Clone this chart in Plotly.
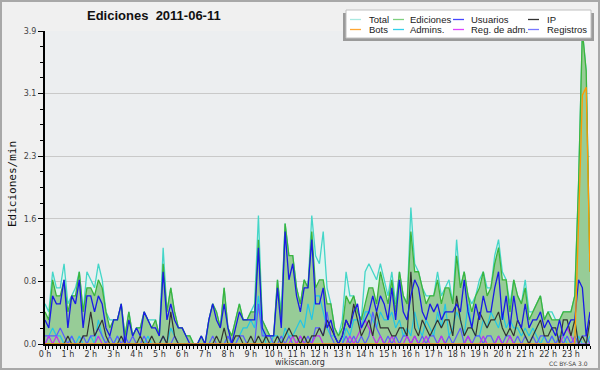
import plotly.graph_objects as go

# ---------------- data (per 10 minutes, 144 points, edits/min) ----------------
total = [
    0.5,0.4,0.9,0.7,0.7,1.0,  0.5,0.6,0.7,0.9,0.4,0.9,  0.8,0.7,1.0,0.8,0.4,0.3,
    0.3,0.3,0.5,0.1,0.4,0.1,  0.2,0.2,0.4,0.3,0.3,0.3,  0.1,1.2,0.4,0.7,0.4,0.2,
    0.2,0.1,0.1,0.0,0.0,0.1,  0.0,0.3,0.5,0.4,0.2,0.7,  0.2,0.1,0.3,0.5,0.3,0.3,
    0.4,0.5,1.6,0.3,0.2,0.1,  0.1,0.8,0.4,1.5,1.1,1.1,  0.7,0.5,0.8,0.7,1.6,1.1,
    1.0,1.4,0.7,0.5,0.2,0.1,  0.3,0.9,0.6,0.6,0.4,0.3,  0.9,1.0,0.9,0.8,1.0,0.8,
    0.6,0.9,0.5,0.9,0.6,0.5,  1.7,1.0,0.9,0.7,0.6,0.6,  0.6,0.9,0.6,0.7,0.8,0.5,
    1.3,0.7,0.9,0.6,0.5,0.6,  0.8,0.9,0.7,0.7,1.1,1.3,  0.9,0.8,0.5,0.8,0.6,0.5,
    0.8,0.4,0.4,0.5,0.6,0.3,  0.4,0.4,0.3,0.3,0.4,0.4,  0.4,0.6,2.0,3.9,3.4,0.9,
]
ediciones = [
    0.4,0.3,0.8,0.6,0.6,0.8,  0.4,0.6,0.6,0.9,0.4,0.7,  0.7,0.6,0.8,0.7,0.4,0.2,
    0.3,0.3,0.5,0.1,0.4,0.1,  0.2,0.2,0.4,0.3,0.2,0.3,  0.1,1.0,0.4,0.7,0.4,0.2,
    0.2,0.1,0.1,0.0,0.0,0.1,  0.0,0.3,0.5,0.4,0.2,0.7,  0.2,0.1,0.3,0.5,0.3,0.3,
    0.4,0.4,1.3,0.3,0.2,0.1,  0.1,0.8,0.3,1.5,1.1,1.1,  0.7,0.5,0.8,0.7,1.4,0.7,
    0.8,0.8,0.5,0.5,0.2,0.1,  0.2,0.6,0.5,0.6,0.4,0.3,  0.5,0.7,0.7,0.5,0.9,0.7,
    0.5,0.8,0.4,0.9,0.6,0.5,  1.4,0.9,0.9,0.7,0.5,0.6,  0.6,0.8,0.5,0.7,0.7,0.5,
    1.1,0.7,0.9,0.6,0.4,0.6,  0.7,0.9,0.6,0.7,1.0,1.2,  0.8,0.8,0.4,0.8,0.6,0.5,
    0.7,0.3,0.4,0.5,0.6,0.3,  0.4,0.3,0.3,0.3,0.4,0.4,  0.4,0.6,2.0,3.9,3.4,0.9,
]
usuarios = [
    0.3,0.2,0.6,0.5,0.5,0.8,  0.2,0.6,0.5,0.8,0.2,0.6,  0.6,0.4,0.6,0.5,0.2,0.1,
    0.3,0.3,0.5,0.0,0.3,0.1,  0.2,0.1,0.4,0.3,0.2,0.2,  0.1,0.9,0.3,0.5,0.3,0.2,
    0.2,0.1,0.0,0.0,0.0,0.1,  0.0,0.3,0.5,0.3,0.2,0.5,  0.2,0.0,0.2,0.4,0.3,0.3,
    0.3,0.3,1.2,0.2,0.1,0.1,  0.1,0.7,0.2,1.4,0.8,1.0,  0.6,0.4,0.7,0.7,1.3,0.5,
    0.5,0.7,0.2,0.3,0.1,0.0,  0.1,0.3,0.2,0.4,0.5,0.2,  0.3,0.4,0.6,0.4,0.6,0.5,
    0.3,0.7,0.3,0.8,0.4,0.3,  0.6,0.8,0.7,0.4,0.3,0.5,  0.4,0.5,0.3,0.4,0.4,0.4,
    0.5,0.4,0.8,0.4,0.2,0.5,  0.3,0.6,0.4,0.4,0.7,0.9,  0.3,0.6,0.2,0.6,0.3,0.2,
    0.5,0.2,0.3,0.3,0.4,0.2,  0.3,0.2,0.1,0.3,0.1,0.2,  0.3,0.3,0.8,0.7,0.1,0.4,
]
ip = [
    0.0,0.0,0.0,0.0,0.0,0.0,  0.1,0.0,0.0,0.0,0.1,0.1,  0.4,0.1,0.2,0.3,0.1,0.0,
    0.0,0.0,0.1,0.0,0.0,0.0,  0.0,0.1,0.0,0.0,0.1,0.0,  0.0,0.1,0.0,0.4,0.1,0.0,
    0.0,0.0,0.0,0.0,0.0,0.0,  0.0,0.0,0.0,0.1,0.0,0.2,  0.0,0.0,0.1,0.1,0.0,0.0,
    0.1,0.0,0.1,0.0,0.1,0.0,  0.0,0.1,0.0,0.1,0.2,0.1,  0.1,0.0,0.1,0.0,0.1,0.1,
    0.2,0.1,0.3,0.2,0.1,0.0,  0.1,0.3,0.2,0.5,0.3,0.1,  0.2,0.3,0.1,0.4,0.2,0.2,
    0.2,0.1,0.1,0.2,0.2,0.1,  0.9,0.2,0.1,0.3,0.2,0.1,  0.2,0.3,0.2,0.3,0.3,0.1,
    0.6,0.3,0.1,0.2,0.2,0.1,  0.4,0.3,0.2,0.3,0.3,0.4,  0.2,0.1,0.2,0.1,0.3,0.2,
    0.1,0.0,0.1,0.2,0.3,0.1,  0.1,0.2,0.2,0.0,0.3,0.3,  0.1,0.3,0.0,0.1,0.0,0.3,
]
bots = [0.0] * 140 + [1.5, 3.1, 3.2, 0.9]
admins = [
    0.0,0.1,0.2,0.1,0.1,0.0,  0.0,0.1,0.0,0.1,0.0,0.0,  0.1,0.0,0.3,0.1,0.0,0.0,
    0.0,0.1,0.0,0.0,0.0,0.0,  0.0,0.0,0.0,0.1,0.0,0.0,  0.0,0.1,0.0,0.2,0.1,0.0,
    0.0,0.0,0.0,0.0,0.0,0.0,  0.0,0.0,0.0,0.0,0.0,0.0,  0.1,0.0,0.0,0.1,0.2,0.2,
    0.3,0.2,0.6,0.2,0.0,0.0,  0.1,0.1,0.0,0.2,0.1,0.1,  0.2,0.3,0.2,0.5,0.3,0.6,
    0.6,0.4,0.2,0.1,0.1,0.0,  0.0,0.2,0.1,0.3,0.3,0.2,  0.4,0.4,0.3,0.2,0.4,0.3,
    0.3,0.4,0.2,0.3,0.1,0.2,  0.1,0.4,0.2,0.1,0.3,0.2,  0.1,0.4,0.2,0.5,0.1,0.2,
    0.4,0.3,0.1,0.5,0.2,0.1,  0.1,0.3,0.2,0.4,0.3,0.2,  0.4,0.2,0.3,0.2,0.2,0.1,
    0.2,0.1,0.2,0.1,0.0,0.1,  0.0,0.1,0.0,0.1,0.1,0.0,  0.0,0.0,0.1,0.0,0.0,0.1,
]
reg_adm = [
    0.0,0.1,0.0,0.1,0.0,0.0,  0.0,0.0,0.0,0.0,0.0,0.0,  0.0,0.0,0.1,0.0,0.0,0.0,
    0.0,0.0,0.0,0.0,0.0,0.0,  0.0,0.0,0.0,0.0,0.0,0.0,  0.0,0.0,0.0,0.0,0.0,0.0,
    0.0,0.0,0.0,0.0,0.0,0.0,  0.0,0.0,0.0,0.0,0.0,0.0,  0.0,0.0,0.0,0.0,0.0,0.0,
    0.0,0.0,0.0,0.0,0.0,0.0,  0.0,0.0,0.0,0.0,0.0,0.1,  0.0,0.1,0.0,0.0,0.0,0.1,
    0.1,0.0,0.0,0.0,0.0,0.0,  0.0,0.0,0.1,0.0,0.1,0.2,  0.3,0.2,0.1,0.0,0.1,0.0,
    0.0,0.1,0.0,0.0,0.0,0.1,  0.0,0.1,0.0,0.0,0.1,0.0,  0.0,0.0,0.1,0.0,0.0,0.0,
    0.0,0.0,0.0,0.1,0.0,0.0,  0.0,0.1,0.0,0.0,0.0,0.1,  0.0,0.0,0.1,0.0,0.0,0.0,
    0.0,0.0,0.0,0.0,0.0,0.0,  0.0,0.0,0.0,0.0,0.1,0.2,  0.1,0.0,0.0,0.0,0.0,0.0,
]
registros = [
    0.1,0.1,0.1,0.1,0.2,0.1,  0.0,0.1,0.0,0.0,0.1,0.0,  0.1,0.1,0.2,0.1,0.0,0.1,
    0.0,0.1,0.0,0.1,0.0,0.1,  0.0,0.0,0.1,0.0,0.0,0.0,  0.0,0.1,0.0,0.0,0.1,0.0,
    0.0,0.0,0.0,0.0,0.0,0.0,  0.0,0.0,0.1,0.0,0.0,0.0,  0.1,0.0,0.0,0.1,0.1,0.0,
    0.0,0.0,0.5,0.1,0.1,0.1,  0.0,0.0,0.1,0.0,0.1,0.0,  0.0,0.1,0.0,0.1,0.0,0.2,
    0.2,0.1,0.4,0.1,0.0,0.0,  0.0,0.1,0.0,0.1,0.0,0.1,  0.0,0.1,0.4,0.2,0.1,0.0,
    0.1,0.0,0.1,0.0,0.1,0.1,  0.0,0.1,0.0,0.1,0.0,0.1,  0.1,0.0,0.1,0.0,0.1,0.0,
    0.1,0.2,0.0,0.1,0.0,0.1,  0.1,0.0,0.1,0.1,0.0,0.1,  0.0,0.1,0.1,0.0,0.1,0.0,
    0.1,0.0,0.1,0.0,0.1,0.1,  0.0,0.1,0.0,0.1,0.0,0.1,  0.0,0.1,0.0,0.1,0.1,0.0,
]

x_hours = [i / 6 for i in range(len(ediciones))]

legend_names = ["Total", "Ediciones", "Usuarios", "IP",
                "Bots", "Admins.", "Reg. de adm.", "Registros"]
legend_colors = ["#a9e9e1", "#7fd07f", "#4646ff", "#333333",
                 "#ffa733", "#33d0ea", "#dd44ff", "#7777ff"]

title_text = "Ediciones\u00a0 2011-06-11"
y_title = "Ediciones/min"

# ---------------- figure ----------------
W, H = 600, 370
L, R, T, B = 45, 10, 31, 26
PW, PH = W - L - R, H - T - B


def px(x):
    return (x - L) / PW


def py(y):
    return (H - B - y) / PH


fig = go.Figure()

fig.add_trace(go.Scatter(x=x_hours, y=total, mode="lines", fill="tozeroy",
                         fillcolor="#dff3ef", line=dict(color="#44d6c8", width=1.3),
                         name="Total"))
fig.add_trace(go.Scatter(x=x_hours, y=ediciones, mode="lines", fill="tozeroy",
                         fillcolor="#97cc97", line=dict(color="#3cb43c", width=1.3),
                         name="Ediciones"))
fig.add_trace(go.Scatter(x=x_hours, y=admins, mode="lines",
                         line=dict(color="#22c6e6", width=1.2), name="Admins."))
fig.add_trace(go.Scatter(x=x_hours, y=registros, mode="lines",
                         line=dict(color="#5a5aff", width=1.2), name="Registros"))
fig.add_trace(go.Scatter(x=x_hours, y=reg_adm, mode="lines",
                         line=dict(color="#c030f0", width=1.2), name="Reg. de adm."))
fig.add_trace(go.Scatter(x=x_hours, y=ip, mode="lines",
                         line=dict(color="#333333", width=1.2), name="IP"))
fig.add_trace(go.Scatter(x=x_hours, y=usuarios, mode="lines",
                         line=dict(color="#1a1ae6", width=1.3), name="Usuarios"))
fig.add_trace(go.Scatter(x=x_hours, y=bots, mode="lines",
                         line=dict(color="#ff9a00", width=1.3), name="Bots"))

shapes = []
annotations = []

# outer frame
shapes.append(dict(type="rect", xref="paper", yref="paper",
                   x0=px(1), x1=px(599), y0=py(369), y1=py(1),
                   line=dict(color="#a8a8a8", width=2), fillcolor="rgba(0,0,0,0)",
                   layer="below"))

# legend box (shadow + box)
shapes.append(dict(type="rect", xref="paper", yref="paper",
                   x0=px(343), x1=px(594), y0=py(41), y1=py(13),
                   line=dict(width=0), fillcolor="#9a9a9a", layer="above"))
shapes.append(dict(type="rect", xref="paper", yref="paper",
                   x0=px(346), x1=px(591), y0=py(38), y1=py(10),
                   line=dict(color="#c0c0c0", width=1), fillcolor="#ffffff", layer="above"))

col_line_x = [350, 393, 453, 528]
col_text_x = [367, 408, 469, 545]
row_y = [19.5, 29.5]
for k, (name, col) in enumerate(zip(legend_names, legend_colors)):
    r, c = divmod(k, 4)
    yy = py(row_y[r])
    shapes.append(dict(type="line", xref="paper", yref="paper",
                       x0=px(col_line_x[c]), x1=px(col_line_x[c] + 11), y0=yy, y1=yy,
                       line=dict(color=col, width=1.3), layer="above"))
    annotations.append(dict(text=name, xref="paper", yref="paper",
                            x=px(col_text_x[c]), y=yy, xanchor="left", yanchor="middle",
                            showarrow=False,
                            font=dict(family="Liberation Sans", size=9.5, color="#1a1a1a")))

# title
annotations.append(dict(text="<b>" + title_text + "</b>", xref="paper", yref="paper",
                        x=px(153.5), y=py(16), xanchor="center", yanchor="middle",
                        showarrow=False,
                        font=dict(family="Liberation Sans", size=13, color="#111111")))
# y-axis title
annotations.append(dict(text=y_title, xref="paper", yref="paper",
                        x=px(12), y=py(184), xanchor="center", yanchor="middle",
                        textangle=-90, showarrow=False,
                        font=dict(family="DejaVu Sans Mono", size=11, color="#111111")))
# footer texts
annotations.append(dict(text="wikiscan.org", xref="paper", yref="paper",
                        x=px(300), y=py(362), xanchor="center", yanchor="middle",
                        showarrow=False,
                        font=dict(family="DejaVu Sans", size=8, color="#333333")))
annotations.append(dict(text="CC BY-SA 3.0", xref="paper", yref="paper",
                        x=px(590), y=py(363), xanchor="right", yanchor="middle",
                        showarrow=False,
                        font=dict(family="DejaVu Sans", size=6, color="#444444")))

fig.update_layout(
    width=W, height=H,
    margin=dict(l=L, r=R, t=T, b=B, pad=0, autoexpand=False),
    paper_bgcolor="#f0f0f0",
    plot_bgcolor="#eceef0",
    showlegend=False,
    shapes=shapes,
    annotations=annotations,
)

fig.update_xaxes(
    range=[0, x_hours[-1]],
    tickmode="linear", tick0=0, dtick=1, ticksuffix=" h",
    ticks="outside", ticklen=4, tickcolor="#000000", tickwidth=1,
    minor=dict(tickmode="linear", tick0=0, dtick=1 / 6, ticks="outside",
               ticklen=3, tickcolor="#000000", showgrid=False),
    showgrid=False, zeroline=False,
    showline=True, linecolor="#000000", linewidth=2,
    tickfont=dict(family="DejaVu Sans", size=8, color="#333333"),
    ticklabelstandoff=-3,
    automargin=False,
    fixedrange=True,
)
fig.update_yaxes(
    range=[0, 3.9000001],
    tickmode="linear", tick0=0, dtick=0.78, tickformat=".1f",
    ticks="outside", ticklen=5, tickcolor="#000000", tickwidth=1,
    minor=dict(tickmode="linear", tick0=0, dtick=0.195, ticks="outside",
               ticklen=3, tickcolor="#000000", showgrid=False),
    showgrid=True, gridcolor="#c9c9c9", gridwidth=1,
    zeroline=False,
    showline=True, linecolor="#000000", linewidth=2,
    tickfont=dict(family="DejaVu Sans", size=8, color="#444444"),
    automargin=False,
    fixedrange=True,
)

fig.write_html(
    "out.html",
    config={"displayModeBar": False},
    post_script="document.body.style.margin='0';document.body.style.padding='0';",
)
